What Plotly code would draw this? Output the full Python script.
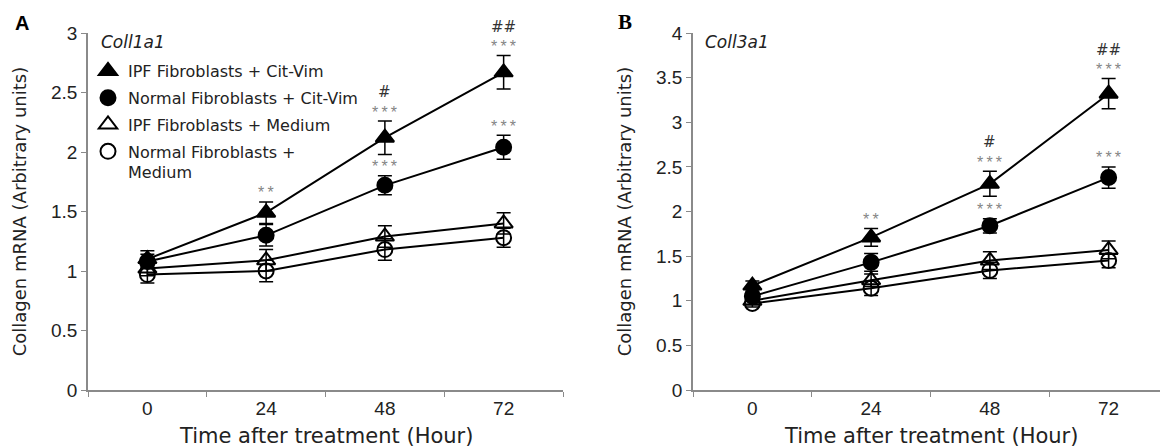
import plotly.graph_objects as go

hours = ["0", "24", "48", "72"]
series_names = ["IPF Fibroblasts + Cit-Vim", "Normal Fibroblasts + Cit-Vim",
                "IPF Fibroblasts + Medium", "Normal Fibroblasts +<br>Medium"]
symbols = ["triangle-up", "circle", "triangle-up-open", "circle-open"]
x_title = "Time after treatment (Hour)"
y_title = "Collagen mRNA (Arbitrary units)"

# Panel A: Coll1a1
a_ipf_cv = [1.10, 1.49, 2.12, 2.67]
a_ipf_cv_err = [0.07, 0.09, 0.14, 0.14]
a_nor_cv = [1.08, 1.30, 1.72, 2.04]
a_nor_cv_err = [0.06, 0.09, 0.08, 0.10]
a_ipf_med = [1.02, 1.09, 1.29, 1.40]
a_ipf_med_err = [0.06, 0.09, 0.09, 0.09]
a_nor_med = [0.97, 1.00, 1.18, 1.28]
a_nor_med_err = [0.07, 0.09, 0.09, 0.08]

# Panel B: Coll3a1
b_ipf_cv = [1.17, 1.71, 2.31, 3.32]
b_ipf_cv_err = [0.05, 0.10, 0.14, 0.17]
b_nor_cv = [1.05, 1.43, 1.84, 2.38]
b_nor_cv_err = [0.05, 0.10, 0.08, 0.12]
b_ipf_med = [1.00, 1.23, 1.45, 1.57]
b_ipf_med_err = [0.04, 0.07, 0.10, 0.10]
b_nor_med = [0.97, 1.14, 1.34, 1.45]
b_nor_med_err = [0.04, 0.08, 0.09, 0.08]

# significance labels: (hour, series index, stars, hashes)
a_sig = [("24", 0, "**", ""), ("48", 0, "***", "#"), ("72", 0, "***", "##"),
         ("48", 1, "***", ""), ("72", 1, "***", "")]
b_sig = [("24", 0, "**", ""), ("48", 0, "***", "#"), ("72", 0, "***", "##"),
         ("48", 1, "***", ""), ("72", 1, "***", "")]

W, H = 1168, 447
OFF = 8  # page body margin offset
ML, MR, MT, MB = 88 - OFF, OFF, 33 - OFF, H - (390 - OFF)
PW, PH = W - ML - MR, H - MT - MB


def px(x):
    return (x - OFF - ML) / PW


def py(y):
    return (H - MB - (y - OFF)) / PH


panels = [
    dict(xa="x", ya="y", means=[a_ipf_cv, a_nor_cv, a_ipf_med, a_nor_med],
         errs=[a_ipf_cv_err, a_nor_cv_err, a_ipf_med_err, a_nor_med_err], sig=a_sig, legend=True),
    dict(xa="x2", ya="y2", means=[b_ipf_cv, b_nor_cv, b_ipf_med, b_nor_med],
         errs=[b_ipf_cv_err, b_nor_cv_err, b_ipf_med_err, b_nor_med_err], sig=b_sig, legend=False),
]

fig = go.Figure()
annotations = []
for p in panels:
    for m in p["means"]:
        fig.add_trace(go.Scatter(x=hours, y=m, mode="lines", xaxis=p["xa"], yaxis=p["ya"],
                                 line=dict(color="black", width=2), showlegend=False,
                                 hoverinfo="skip"))
    for i, (m, e) in enumerate(zip(p["means"], p["errs"])):
        fig.add_trace(go.Scatter(
            x=hours, y=m, mode="markers", xaxis=p["xa"], yaxis=p["ya"],
            name=series_names[i], showlegend=p["legend"], legendgroup="g%d" % i,
            marker=dict(symbol=symbols[i], size=16 if "triangle" in symbols[i] else 15,
                        color="black", line=dict(color="black", width=2)),
            error_y=dict(type="data", array=e, visible=True, color="black",
                         thickness=1.5, width=7),
        ))
    for hr, si, stars, hashes in p["sig"]:
        idx = hours.index(hr)
        top = p["means"][si][idx] + p["errs"][si][idx]
        annotations.append(dict(x=idx, y=top, xref=p["xa"], yref=p["ya"],
                                text="\u2009".join(stars),
                                showarrow=False, yanchor="middle", yshift=9,
                                font=dict(family="Liberation Sans", size=16, color="#858585")))
        if hashes:
            annotations.append(dict(x=idx, y=top, xref=p["xa"], yref=p["ya"], text=hashes,
                                    showarrow=False, yanchor="middle", yshift=29,
                                    font=dict(family="DejaVu Sans", size=15, color="#333333")))

axis_common = dict(showline=True, linecolor="#8a8a8a", linewidth=1.5, ticks="outside",
                   tickcolor="#8a8a8a", ticklen=5, showgrid=False, zeroline=False,
                   automargin=False,
                   tickfont=dict(family="Liberation Sans", size=19, color="#222222"))
xtitle_font = dict(family="DejaVu Sans", size=21, color="#222222")
ytitle_font = dict(family="DejaVu Sans", size=18, color="#222222")

fig.update_layout(
    width=W, height=H, margin=dict(l=ML, r=MR, t=MT, b=MB, autoexpand=False),
    plot_bgcolor="white", paper_bgcolor="white",
    xaxis=dict(domain=[0, px(563)], type="category", range=[-0.5, 3.5],
               tickson="boundaries", **axis_common),
    yaxis=dict(domain=[0, 1], range=[0, 3], dtick=0.5, anchor="x",
               title=dict(text=y_title, font=ytitle_font, standoff=20),
               **axis_common),
    xaxis2=dict(domain=[px(693), 1.0], type="category", range=[-0.5, 3.5], anchor="y2",
                tickson="boundaries", **axis_common),
    yaxis2=dict(domain=[0, 1], range=[0, 4], dtick=0.5, anchor="x2",
                title=dict(text=y_title, font=ytitle_font, standoff=20),
                **axis_common),
    legend=dict(x=px(88), y=py(54), xanchor="left", yanchor="top", valign="top",
                bgcolor="rgba(0,0,0,0)", font=dict(family="DejaVu Sans", size=16, color="#222222"),
                itemsizing="trace", tracegroupgap=3),
    showlegend=True,
)

annotations += [
    dict(x=(px(88) + px(563)) / 2, y=py(436), xref="paper", yref="paper", text=x_title,
         showarrow=False, xanchor="center", yanchor="middle", font=xtitle_font),
    dict(x=(px(693) + 1.0) / 2, y=py(436), xref="paper", yref="paper", text=x_title,
         showarrow=False, xanchor="center", yanchor="middle", font=xtitle_font),
    dict(x=px(99), y=py(42), xref="paper", yref="paper", text="<i>Coll1a1</i>",
         showarrow=False, xanchor="left", yanchor="middle",
         font=dict(family="DejaVu Sans", size=17, color="#222222")),
    dict(x=px(703), y=py(42), xref="paper", yref="paper", text="<i>Coll3a1</i>",
         showarrow=False, xanchor="left", yanchor="middle",
         font=dict(family="DejaVu Sans", size=17, color="#222222")),
    dict(x=px(22), y=py(23), xref="paper", yref="paper", text="<b>A</b>",
         showarrow=False, xanchor="center", yanchor="middle",
         font=dict(family="Liberation Sans", size=20, color="black")),
    dict(x=px(625), y=py(22), xref="paper", yref="paper", text="<b>B</b>",
         showarrow=False, xanchor="center", yanchor="middle",
         font=dict(family="Liberation Serif", size=21, color="black")),
]
fig.update_layout(annotations=annotations)

fig.write_html("out.html")
